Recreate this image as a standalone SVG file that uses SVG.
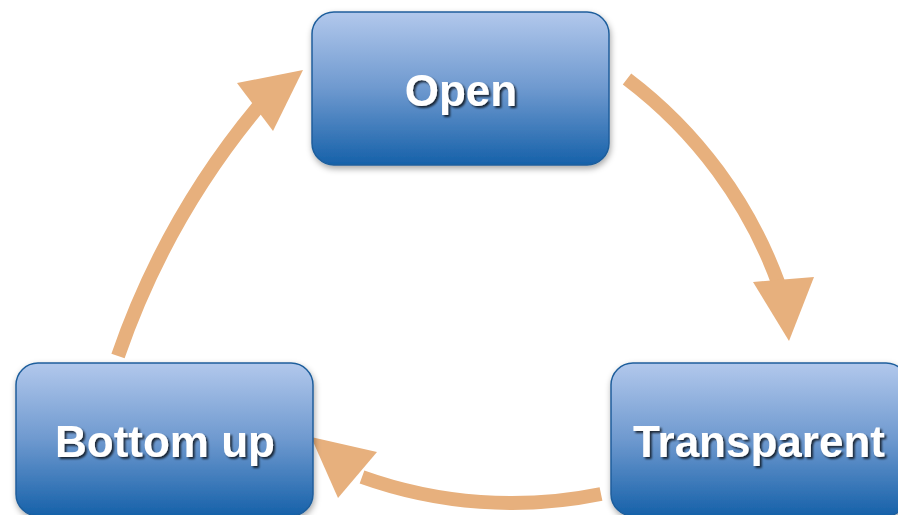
<svg xmlns="http://www.w3.org/2000/svg" width="898" height="515" viewBox="0 0 898 515">
  <defs>
    <linearGradient id="boxGrad" x1="0" y1="0" x2="0" y2="1">
      <stop offset="0" stop-color="#b2c8ec"/>
      <stop offset="0.5" stop-color="#6e99cf"/>
      <stop offset="1" stop-color="#1661a9"/>
    </linearGradient>
    <filter id="boxShadow" x="-10%" y="-10%" width="120%" height="130%">
      <feDropShadow dx="1" dy="3" stdDeviation="3" flood-color="#000" flood-opacity="0.35"/>
    </filter>
    <filter id="textShadow" x="-10%" y="-20%" width="120%" height="150%">
      <feDropShadow dx="2" dy="2" stdDeviation="0.8" flood-color="#000" flood-opacity="0.75"/>
    </filter>
    <style>
      .box { fill: url(#boxGrad); stroke: #1f5e9c; stroke-width: 1.5; filter: url(#boxShadow); }
      .label { font-family: "Liberation Sans", Arial, sans-serif; font-weight: bold; font-size: 44px; fill: #ffffff; text-anchor: middle; filter: url(#textShadow); }
      .shaft { fill: none; stroke: #e7b07d; stroke-width: 14; stroke-linecap: butt; }
      .head { fill: #e7b07d; }
    </style>
  </defs>
  <rect width="898" height="515" fill="#ffffff"/>

  <g id="connectors">
    <g id="open-to-transparent">
      <path class="shaft" d="M 627 79 A 450 450 0 0 1 779 285"/>
      <polygon class="head" points="753,282 814,277 789,341"/>
    </g>
    <g id="transparent-to-bottomup">
      <path class="shaft" d="M 601 494 A 445 445 0 0 1 362 477"/>
      <polygon class="head" points="377,452 338,498 311,437"/>
    </g>
    <g id="bottomup-to-open">
      <path class="shaft" d="M 118 356 A 796 796 0 0 1 258 107"/>
      <polygon class="head" points="237,83 273,131 303,70"/>
    </g>
  </g>

  <g id="node-open">
    <rect class="box" x="312" y="12" width="297" height="153" rx="22" ry="22"/>
    <text class="label" x="461" y="106">Open</text>
  </g>
  <g id="node-bottomup">
    <rect class="box" x="16" y="363" width="297" height="153" rx="22" ry="22"/>
    <text class="label" x="165" y="457">Bottom up</text>
  </g>
  <g id="node-transparent">
    <rect class="box" x="611" y="363" width="297" height="153" rx="22" ry="22"/>
    <text class="label" x="759" y="457">Transparent</text>
  </g>
</svg>
